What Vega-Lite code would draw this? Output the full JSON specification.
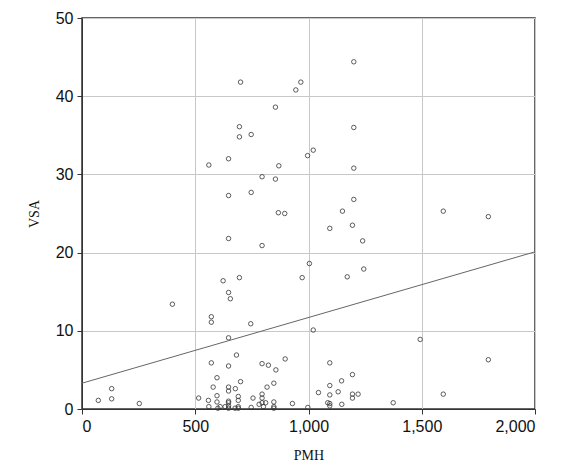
{"$schema":"https://vega.github.io/schema/vega-lite/v6.json","autosize":{"type":"none"},"padding":{"left":82,"top":18,"right":26,"bottom":66},"width":453,"height":391,"background":"white","config":{"view":{"stroke":"#333","strokeWidth":1.5},"axis":{"grid":true,"gridColor":"#c8c8c8","domainColor":"#333","tickColor":"#333","labelFont":"Liberation Sans","labelFontSize":16,"labelColor":"#111","titleFont":"Liberation Serif","titleFontSize":14,"titleFontWeight":"normal","titleColor":"#111"}},
"datasets":{"pts":[
{"PMH":1200,"VSA":44.4},{"PMH":700,"VSA":41.8},{"PMH":966,"VSA":41.8},{"PMH":944,"VSA":40.8},{"PMH":854,"VSA":38.6},{"PMH":695,"VSA":36.1},{"PMH":1200,"VSA":36.0},{"PMH":695,"VSA":34.8},{"PMH":747,"VSA":35.1},{"PMH":1021,"VSA":33.1},{"PMH":996,"VSA":32.4},{"PMH":560,"VSA":31.2},{"PMH":647,"VSA":32.0},{"PMH":869,"VSA":31.1},{"PMH":1200,"VSA":30.8},{"PMH":795,"VSA":29.7},{"PMH":854,"VSA":29.4},{"PMH":647,"VSA":27.3},{"PMH":747,"VSA":27.7},{"PMH":1200,"VSA":26.8},
{"PMH":867,"VSA":25.1},{"PMH":895,"VSA":25.0},{"PMH":1150,"VSA":25.3},{"PMH":1595,"VSA":25.3},{"PMH":1794,"VSA":24.6},{"PMH":1194,"VSA":23.5},{"PMH":1094,"VSA":23.1},{"PMH":1239,"VSA":21.5},{"PMH":647,"VSA":21.8},{"PMH":795,"VSA":20.9},{"PMH":1004,"VSA":18.6},{"PMH":1244,"VSA":17.9},{"PMH":623,"VSA":16.4},{"PMH":695,"VSA":16.8},{"PMH":972,"VSA":16.8},{"PMH":1171,"VSA":16.9},{"PMH":647,"VSA":14.9},{"PMH":655,"VSA":14.1},{"PMH":399,"VSA":13.4},{"PMH":571,"VSA":11.8},{"PMH":571,"VSA":11.1},{"PMH":745,"VSA":10.9},{"PMH":1021,"VSA":10.1},{"PMH":647,"VSA":9.1},{"PMH":1493,"VSA":8.9},{"PMH":682,"VSA":6.9},{"PMH":897,"VSA":6.4},{"PMH":1794,"VSA":6.3},{"PMH":571,"VSA":5.9},{"PMH":1094,"VSA":5.9},{"PMH":795,"VSA":5.8},{"PMH":823,"VSA":5.6},{"PMH":647,"VSA":5.5},{"PMH":856,"VSA":5.0},{"PMH":1194,"VSA":4.4},{"PMH":596,"VSA":4.0},{"PMH":1146,"VSA":3.6},{"PMH":700,"VSA":3.5},{"PMH":847,"VSA":3.3},{"PMH":1094,"VSA":3.0},{"PMH":647,"VSA":2.8},{"PMH":817,"VSA":2.8},{"PMH":579,"VSA":2.8},{"PMH":677,"VSA":2.6},{"PMH":131,"VSA":2.6},{"PMH":647,"VSA":2.3},{"PMH":1044,"VSA":2.1},{"PMH":1131,"VSA":2.2},{"PMH":596,"VSA":1.7},{"PMH":795,"VSA":1.9},{"PMH":1094,"VSA":1.8},{"PMH":1194,"VSA":1.9},{"PMH":1219,"VSA":1.9},{"PMH":1595,"VSA":1.9},{"PMH":690,"VSA":1.6},{"PMH":755,"VSA":1.4},{"PMH":515,"VSA":1.4},{"PMH":795,"VSA":1.4},{"PMH":1194,"VSA":1.4},{"PMH":131,"VSA":1.3},{"PMH":72,"VSA":1.1},{"PMH":558,"VSA":1.1},{"PMH":690,"VSA":1.1},{"PMH":596,"VSA":0.9},{"PMH":647,"VSA":1.0},{"PMH":847,"VSA":0.9},{"PMH":795,"VSA":0.8},{"PMH":811,"VSA":0.8},{"PMH":1085,"VSA":0.8},{"PMH":1374,"VSA":0.8},{"PMH":253,"VSA":0.7},{"PMH":929,"VSA":0.7},{"PMH":1094,"VSA":0.7},{"PMH":647,"VSA":0.8},{"PMH":1147,"VSA":0.6},{"PMH":782,"VSA":0.6},{"PMH":560,"VSA":0.3},{"PMH":610,"VSA":0.3},{"PMH":632,"VSA":0.3},{"PMH":647,"VSA":0.4},{"PMH":690,"VSA":0.3},{"PMH":801,"VSA":0.3},{"PMH":847,"VSA":0.3},{"PMH":1094,"VSA":0.4},{"PMH":747,"VSA":0.2},{"PMH":997,"VSA":0.2},{"PMH":647,"VSA":0.1},{"PMH":690,"VSA":0.1},{"PMH":847,"VSA":0.1},{"PMH":676,"VSA":0.1},{"PMH":600,"VSA":0.1}],
"fit":[{"PMH":0,"VSA":3.3},{"PMH":2000,"VSA":20.1}]},
"layer":[
{"data":{"name":"pts"},"mark":{"type":"point","shape":"circle","size":20,"stroke":"#333","strokeWidth":0.8,"filled":false,"opacity":1},
"encoding":{"x":{"field":"PMH","type":"quantitative","scale":{"domain":[0,2000],"nice":false},"axis":{"values":[0,500,1000,1500,2000],"format":",d","title":"PMH","titlePadding":14,"labelPadding":4}},
"y":{"field":"VSA","type":"quantitative","scale":{"domain":[0,50],"nice":false},"axis":{"values":[0,10,20,30,40,50],"format":"d","title":"VSA","titlePadding":14,"labelPadding":4}}}},
{"data":{"name":"fit"},"mark":{"type":"line","color":"#666","strokeWidth":1},"encoding":{"x":{"field":"PMH","type":"quantitative"},"y":{"field":"VSA","type":"quantitative"}}}
]}
